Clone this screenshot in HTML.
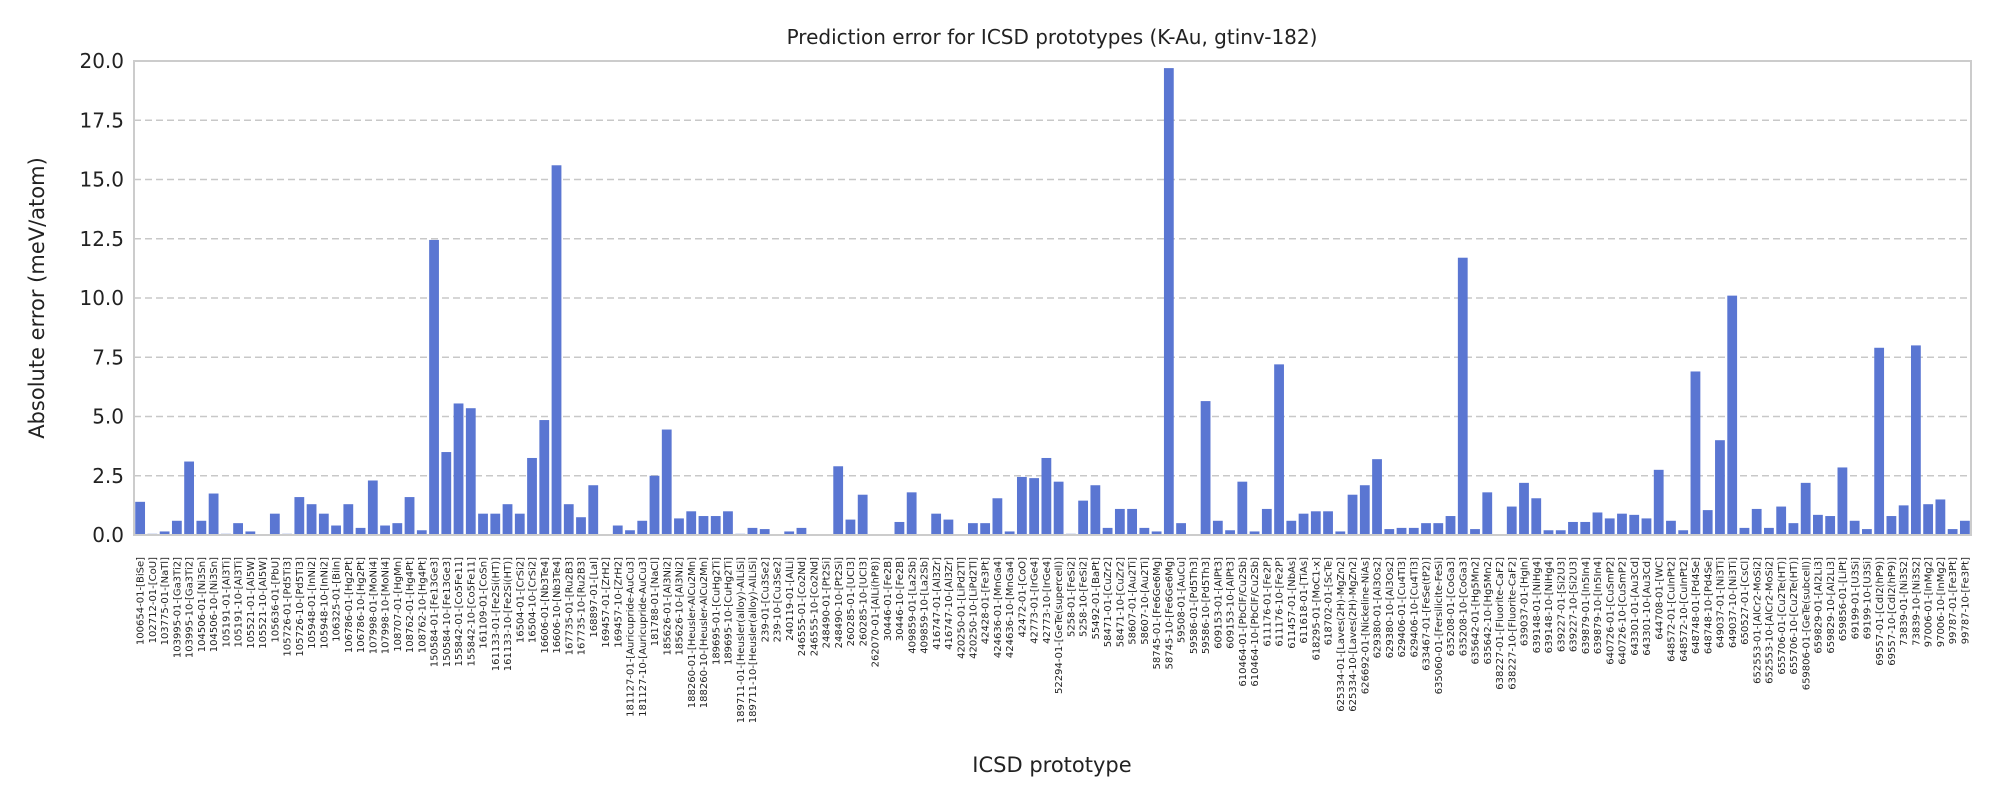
<!DOCTYPE html>
<html><head><meta charset="utf-8">
<style>
html,body{margin:0;padding:0;background:#fff;}
svg{display:block;font-family:"DejaVu Sans","Liberation Sans",sans-serif;}
</style></head>
<body>
<svg id="chart" width="2000" height="800" viewBox="0 0 2000 800" xmlns="http://www.w3.org/2000/svg">
<rect width="2000" height="800" fill="#fff"/>
<text x="1052" y="44" font-size="20" text-anchor="middle" fill="#222">Prediction error for ICSD prototypes (K-Au, gtinv-182)</text>
<text transform="translate(44,298) rotate(-90)" font-size="21" text-anchor="middle" fill="#222">Absolute error (meV/atom)</text>
<text x="1052" y="772" font-size="21" text-anchor="middle" fill="#222">ICSD prototype</text>
<g id="grid"></g>
<g id="bars"></g>
<g id="yticks"></g>
<g id="xticks"></g>
<rect x="134" y="61" width="1837" height="474" fill="none" stroke="#cccccc" stroke-width="2"/>
</svg>
<script>
const categories = ["100654-01-[BiSe]","102712-01-[CoU]","103775-01-[NaTl]","103995-01-[Ga3Ti2]","103995-10-[Ga3Ti2]","104506-01-[Ni3Sn]","104506-10-[Ni3Sn]","105191-01-[Al3Ti]","105191-10-[Al3Ti]","105521-01-[Al5W]","105521-10-[Al5W]","105636-01-[PbU]","105726-01-[Pd5Ti3]","105726-10-[Pd5Ti3]","105948-01-[InNi2]","105948-10-[InNi2]","106325-01-[BiIn]","106786-01-[Hg2Pt]","106786-10-[Hg2Pt]","107998-01-[MoNi4]","107998-10-[MoNi4]","108707-01-[HgMn]","108762-01-[Hg4Pt]","108762-10-[Hg4Pt]","150584-01-[Fe13Ge3]","150584-10-[Fe13Ge3]","155842-01-[Co5Fe11]","155842-10-[Co5Fe11]","161109-01-[CoSn]","161133-01-[Fe2Si(HT)]","161133-10-[Fe2Si(HT)]","16504-01-[CrSi2]","16504-10-[CrSi2]","16606-01-[Nb3Te4]","16606-10-[Nb3Te4]","167735-01-[Ru2B3]","167735-10-[Ru2B3]","168897-01-[LaI]","169457-01-[ZrH2]","169457-10-[ZrH2]","181127-01-[Auricupride-AuCu3]","181127-10-[Auricupride-AuCu3]","181788-01-[NaCl]","185626-01-[Al3Ni2]","185626-10-[Al3Ni2]","188260-01-[Heusler-AlCu2Mn]","188260-10-[Heusler-AlCu2Mn]","189695-01-[CuHg2Ti]","189695-10-[CuHg2Ti]","189711-01-[Heusler(alloy)-AlLiSi]","189711-10-[Heusler(alloy)-AlLiSi]","239-01-[Cu3Se2]","239-10-[Cu3Se2]","240119-01-[AlLi]","246555-01-[Co2Nd]","246555-10-[Co2Nd]","248490-01-[Pt2Si]","248490-10-[Pt2Si]","260285-01-[UCl3]","260285-10-[UCl3]","262070-01-[AlLi(hP8)]","30446-01-[Fe2B]","30446-10-[Fe2B]","409859-01-[La2Sb]","409859-10-[La2Sb]","416747-01-[Al3Zr]","416747-10-[Al3Zr]","420250-01-[LiPd2Tl]","420250-10-[LiPd2Tl]","42428-01-[Fe3Pt]","424636-01-[MnGa4]","424636-10-[MnGa4]","42472-01-[CoO]","42773-01-[IrGe4]","42773-10-[IrGe4]","52294-01-[GeTe(supercell)]","5258-01-[FeSi2]","5258-10-[FeSi2]","55492-01-[BaPt]","58471-01-[CuZr2]","58471-10-[CuZr2]","58607-01-[Au2Ti]","58607-10-[Au2Ti]","58745-01-[Fe6Ge6Mg]","58745-10-[Fe6Ge6Mg]","59508-01-[AuCu]","59586-01-[Pd5Th3]","59586-10-[Pd5Th3]","609153-01-[AlPt3]","609153-10-[AlPt3]","610464-01-[PbClF/Cu2Sb]","610464-10-[PbClF/Cu2Sb]","611176-01-[Fe2P]","611176-10-[Fe2P]","611457-01-[NbAs]","611618-01-[TiAs]","618295-01-[MoC1-x]","618702-01-[ScTe]","625334-01-[Laves(2H)-MgZn2]","625334-10-[Laves(2H)-MgZn2]","626692-01-[Nickeline-NiAs]","629380-01-[Al3Os2]","629380-10-[Al3Os2]","629406-01-[Cu4Ti3]","629406-10-[Cu4Ti3]","633467-01-[FeSe(tP2)]","635060-01-[Fersilicite-FeSi]","635208-01-[CoGa3]","635208-10-[CoGa3]","635642-01-[Hg5Mn2]","635642-10-[Hg5Mn2]","638227-01-[Fluorite-CaF2]","638227-10-[Fluorite-CaF2]","639037-01-[HgIn]","639148-01-[NiHg4]","639148-10-[NiHg4]","639227-01-[Si2U3]","639227-10-[Si2U3]","639879-01-[In5In4]","639879-10-[In5In4]","640726-01-[CuSmP2]","640726-10-[CuSmP2]","643301-01-[Au3Cd]","643301-10-[Au3Cd]","644708-01-[WC]","648572-01-[CuInPt2]","648572-10-[CuInPt2]","648748-01-[Pd4Se]","648748-10-[Pd4Se]","649037-01-[Ni3Ti]","649037-10-[Ni3Ti]","650527-01-[CsCl]","652553-01-[AlCr2-MoSi2]","652553-10-[AlCr2-MoSi2]","655706-01-[Cu2Te(HT)]","655706-10-[Cu2Te(HT)]","659806-01-[GeTe(subcell)]","659829-01-[Al2Li3]","659829-10-[Al2Li3]","659856-01-[LiPt]","69199-01-[U3Si]","69199-10-[U3Si]","69557-01-[CdI2(hP9)]","69557-10-[CdI2(hP9)]","73839-01-[Ni3S2]","73839-10-[Ni3S2]","97006-01-[InMg2]","97006-10-[InMg2]","99787-01-[Fe3Pt]","99787-10-[Fe3Pt]"];
const errors = [1.4,0.05,0.15,0.6,3.1,0.6,1.75,0.05,0.5,0.15,0,0.9,0.05,1.6,1.3,0.9,0.4,1.3,0.3,2.3,0.4,0.5,1.6,0.2,12.45,3.5,5.55,5.35,0.9,0.9,1.3,0.9,3.25,4.85,15.6,1.3,0.75,2.1,0,0.4,0.2,0.6,2.5,4.45,0.7,1.0,0.8,0.8,1.0,0.05,0.3,0.25,0,0.15,0.3,0,0,2.9,0.65,1.7,0,0,0.55,1.8,0,0.9,0.65,0,0.5,0.5,1.55,0.15,2.45,2.4,3.25,2.25,0.05,1.45,2.1,0.3,1.1,1.1,0.3,0.15,19.7,0.5,0,5.65,0.6,0.2,2.25,0.15,1.1,7.2,0.6,0.9,1.0,1.0,0.15,1.7,2.1,3.2,0.25,0.3,0.3,0.5,0.5,0.8,11.7,0.25,1.8,0,1.2,2.2,1.55,0.2,0.2,0.55,0.55,0.95,0.7,0.9,0.85,0.7,2.75,0.6,0.2,6.9,1.05,4.0,10.1,0.3,1.1,0.3,1.2,0.5,2.2,0.85,0.8,2.85,0.6,0.25,7.9,0.8,1.25,8.0,1.3,1.5,0.25,0.6];
const yTicks = [0,2.5,5,7.5,10,12.5,15,17.5,20];
const yTickLabels = ["0.0","2.5","5.0","7.5","10.0","12.5","15.0","17.5","20.0"];

const NS="http://www.w3.org/2000/svg";
const L=134,R=1971,T=61,B=535,YMAX=20;
const n=categories.length, step=(R-L)/n;
const xc=i=>L+step*(i+0.5);
const y=v=>B-(v/YMAX)*(B-T);
function mk(tag,attrs,parent){const e=document.createElementNS(NS,tag);for(const k in attrs)e.setAttribute(k,attrs[k]);parent.appendChild(e);return e;}
const grid=document.getElementById('grid'),bars=document.getElementById('bars'),yt=document.getElementById('yticks'),xt=document.getElementById('xticks');
yTicks.forEach((v,i)=>{
  if(v>0&&v<YMAX){const g=mk('line',{x1:L,x2:R,y1:y(v),y2:y(v),stroke:'#c8c8c8','stroke-width':1.6,'stroke-dasharray':'7,4'},grid);
  
  }
  const t=mk('text',{x:L-10,y:y(v)+7,'font-size':20,'text-anchor':'end',fill:'#222'},yt);
  t.textContent=yTickLabels[i];
  
  
});
errors.forEach((v,i)=>{
  const w=step*0.8;
  const r=mk('rect',{x:xc(i)-w/2,y:y(v),width:w,height:Math.max(0,B-y(v)),fill:'#5a76d2'},bars);
  
  
  const t=mk('text',{transform:`translate(${xc(i)+3.6},${B+22}) rotate(-90)`,'font-size':10,'text-anchor':'end',fill:'#222'},xt);
  t.textContent=categories[i];
  
  
});
</script>
</body></html>
